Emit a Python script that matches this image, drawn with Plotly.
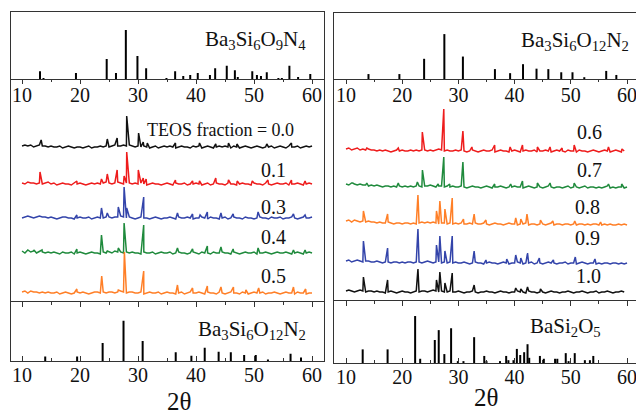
import plotly.graph_objects as go

W, H = 636, 417

# ---------------- reference stick patterns (relative intensity) ----------------
ref_934_pos = [13.1, 13.7, 19.3, 24.6, 26.2, 27.9, 29.9, 31.4, 34.9, 36.4, 37.8, 39.0, 40.3, 42.4,
               43.3, 45.3, 46.7, 47.2, 49.7, 50.5, 51.2, 52.2, 54.2, 54.8, 56.1, 57.6, 59.7]
ref_934_int = [16, 2, 12, 41, 12, 100, 47, 22, 2, 16, 6, 8, 12, 8,
               22, 27, 18, 4, 16, 8, 6, 14, 2, 2, 27, 4, 10]

ref_3122_pos = [14.0, 19.5, 23.9, 27.5, 30.8, 36.5, 39.2, 41.5, 43.9, 46.0, 48.3, 50.3, 52.4, 56.3, 58.1]
ref_3122_int = [11, 11, 45, 100, 50, 22, 13, 33, 23, 22, 15, 15, 4, 18, 9]

ref_bs_pos = [12.97, 17.4, 22.3, 23.2, 25.8, 26.5, 27.5, 28.7, 29.9, 30.9, 32.8, 34.6, 35.0, 37.4,
              38.5, 38.9, 39.8, 40.4, 41.0, 41.7, 42.3, 42.6, 44.5, 45.2, 47.2, 47.6, 49.1, 49.6,
              50.7, 52.5, 53.4, 54.0]
ref_bs_int = [29, 29, 100, 9, 49, 70, 19, 74, 4, 4, 55, 15, 4, 4,
              15, 6, 6, 30, 17, 23, 40, 11, 15, 9, 9, 9, 21, 4,
              21, 6, 6, 15]

# ---------------- measured patterns: baseline (0.5 deg steps from 10) + peaks ----------------
fractions_left = ["0.0", "0.1", "0.3", "0.4", "0.5"]
fractions_right = ["0.6", "0.7", "0.8", "0.9", "1.0"]

base_00 = [1, 2, 1, 2, 0, 1, 2, 1, 1, 0, 1, 0, 0, 1, -1, 0, 1, 0, -1, 0, 0, -1, 0, 1, -1, 0, 0, 1, 0, 1,
           0, 1, 2, 1, 1, 2, 1, 2, 1, 0, 1, 0, 1, 0, -1, 0, 1, -1, 0, 1, 0, 1, 0, -1, 0, 1, 0, 0, -1, 1,
           0, 1, -1, 0, 1, 0, -1, 0, 1, 0, 1, 0, -1, 1, 0, -1, 0, 1, 0, -1, 0, 1, 0, -1, 0, 0, 1, -1, 0, 1,
           0, -1, 1, 0, 0, 1, -1, 0, 1, 0, 1]
peak_00_pos = [13.3, 24.7, 26.4, 28.05, 30.1, 30.9, 31.6, 36.45, 40.6, 43.4, 45.6, 47.05, 52.2, 56.45]
peak_00_h = [7, 8, 9, 31, 14, 5, 4, 4, 4, 3, 4, 3, 3, 4]

base_01 = [1, 0, 2, 1, 1, 0, 1, 0, 1, 2, 0, 1, -1, 0, 1, 0, 0, -1, 1, 0, 1, 0, -1, 0, 1, 0, 1, 0, 1, 2,
           1, 0, 1, 2, 1, 0, 1, 1, 0, 1, 0, 1, 0, -1, 0, 1, 0, 0, -1, 0, 1, 0, -1, 1, 0, 0, 1, -1, 0, 0,
           1, 0, -1, 0, 1, -1, 0, 1, 0, 0, -1, 1, 0, 0, -1, 0, 1, 0, 0, -1, 1, 0, 0, -1, 1, 0, -1, 0, 1, 0,
           0, 1, -1, 0, 0, 1, 0, -1, 0, 1, 0]
peak_01_pos = [13.1, 19.45, 23.7, 24.7, 26.4, 27.6, 28.05, 30.05, 30.9, 31.4, 36.45, 39.4, 40.6, 43.4,
               45.6, 47.1, 49.7, 52.4, 56.45, 58.8]
peak_01_h = [12, 3, 5, 10, 14, 8, 32, 14, 6, 5, 4, 3, 3, 6, 4, 3, 3, 4, 4, 3]

base_03 = [0, 1, 2, 1, 0, 1, 2, 1, 1, 0, 1, 0, -1, 0, 1, 1, 0, 0, -1, 0, 1, 0, 0, 1, -1, 0, 1, 0, 0, 1,
           1, 0, 1, 1, 2, 1, 0, 1, 0, -1, 0, 1, 0, 0, -1, 0, 1, 0, -1, 0, 0, 1, 0, -1, 1, 0, 0, 1, 0, -1,
           0, 0, 1, 0, -1, 1, 0, 0, -1, 0, 1, -1, 0, 1, 0, 0, -1, 1, 0, 0, -1, 0, 1, 0, 0, -1, 1, 0, 0, 1,
           -1, 0, 0, 1, 0, -1, 0, 1, 0, 0, 1]
peak_03_pos = [19.45, 23.7, 24.7, 26.6, 27.6, 28.05, 30.98, 36.8, 39.4, 40.7, 41.95, 44.3, 46.4, 50.7, 56.8, 58.8]
peak_03_h = [3, 10, 5, 11, 31, 10, 21, 5, 4, 3, 6, 5, 4, 6, 4, 3]

base_04 = [2, 0, 3, 1, 2, 0, 2, 1, 0, 1, 0, 1, 0, -1, 1, 0, 0, 1, -1, 0, 1, 0, -1, 0, 1, 0, 0, -1, 1, 0,
           1, 0, 2, 1, 1, 0, 1, 0, 1, 0, 0, -1, 1, 0, 0, 1, -1, 0, 1, 0, 0, 1, -1, 0, 1, 0, 0, -1, 0, 1,
           0, -1, 1, 0, 0, -1, 1, 0, 0, 1, 0, 0, -1, 1, 0, -1, 0, 1, 0, 0, 1, -1, 0, 0, 1, 0, -1, 0, 1, 0,
           0, 1, 0, -1, 0, 1, 0, -1, 0, 1, 0]
peak_04_pos = [12.05, 13.45, 19.45, 23.7, 24.7, 26.6, 27.6, 30.98, 36.8, 39.4, 41.95, 44.3, 46.4, 50.7, 56.8, 58.8]
peak_04_h = [3, 3, 4, 18, 2, 5, 30, 28, 5, 4, 7, 6, 4, 5, 3, 3]

base_05 = [1, 2, 0, 2, 1, 1, 0, 1, 0, 1, 0, 0, 1, -1, 0, 1, 0, -1, 0, 1, 0, 1, 0, -1, 0, 1, 1, 0, 1, 0,
           1, 1, 0, 1, 2, 1, 0, 1, 1, 0, 0, 1, -1, 0, 1, 0, 0, 1, -1, 0, 1, 0, 0, -1, 0, 1, -1, 0, 1, 0,
           0, 1, 0, -1, 1, 0, 0, -1, 1, 0, -1, 0, 1, 0, 0, -1, 1, 0, -1, 0, 1, 0, 0, 1, -1, 0, 0, 1, 0, -1,
           0, 1, 0, 0, -1, 1, 0, 0, -1, 0, 0]
peak_05_pos = [19.45, 23.74, 26.6, 27.65, 30.98, 36.8, 39.4, 41.95, 44.3, 46.45, 48.6, 50.8, 56.8, 58.9]
peak_05_h = [4, 17, 3, 41, 22, 8, 5, 7, 6, 6, 3, 5, 6, 4]

base_06 = [2, 3, 1, 2, 3, 1, 2, 1, 2, 1, 1, 0, 1, 0, 1, 0, -1, 0, 1, 0, 1, 0, 0, 1, 0, 1, 0, 1, 1, 0,
           1, 0, 1, 2, 1, 0, 1, 0, 0, 1, 0, 1, 0, -1, 0, 1, 0, -1, 0, 1, 0, 0, 1, -1, 0, 1, 0, 0, -1, 0,
           1, 0, -1, 0, 1, 0, 0, 1, -1, 0, 0, 1, 0, -1, 0, 1, 0, 0, -1, 1, 0, 0, -1, 1, 0, 0, -1, 0, 1, 0,
           -1, 0, 1, 0, -1, 0, 1, 0, -1, 0]
peak_06_pos = [13.7, 19.3, 23.58, 27.4, 30.8, 32.4, 36.45, 39.2, 41.4, 44.05, 46.3, 48.45, 50.6, 56.7, 59.1]
peak_06_h = [3, 3, 19, 42, 20, 4, 6, 4, 6, 4, 4, 3, 6, 4, 2]

base_07 = [3, 2, 4, 3, 2, 3, 2, 2, 1, 2, 1, 2, 1, 0, 1, 1, 0, 1, 0, 1, 0, 1, 0, 1, 0, 1, 1, 0, 1, 1,
           2, 1, 0, 1, 1, 0, 1, 0, 1, 0, 0, 1, 0, -1, 0, 1, 0, 0, -1, 0, 1, 0, -1, 0, 0, 1, 0, -1, 0, 0,
           1, 0, 0, -1, 0, 1, 0, -1, 0, 0, -1, 0, 1, 0, -1, 0, 0, -1, 0, 1, -1, 0, 0, -1, 0, 1, -1, 0, 0, -1,
           0, -1, 0, 1, -1, 0, -1, 0, 0, -1, 0]
peak_07_pos = [11.2, 13.7, 19.3, 22.7, 23.6, 26.4, 27.4, 28.45, 30.8, 36.45, 39.3, 41.4, 44.05, 46.3, 50.6, 56.7, 59.05]
peak_07_h = [4, 4, 4, 5, 17, 3, 30, 3, 25, 3, 3, 6, 4, 4, 4, 3, 3]

base_08 = [3, 4, 2, 4, 3, 2, 3, 2, 3, 2, 2, 1, 2, 1, 1, 2, 1, 0, 1, 1, 0, 1, 1, 0, 1, 0, 1, 2, 1, 2,
           1, 2, 1, 0, 1, 1, 0, 1, 0, 1, 0, 1, 0, 0, 1, 0, 1, 0, 0, 1, 0, -1, 0, 1, 0, 0, -1, 0, 1, 0,
           0, -1, 0, 0, 1, -1, 0, 0, -1, 0, 0, -1, 0, 1, -1, 0, 0, -1, 0, 0, -1, 0, -1, 0, 0, -1, 0, -1, 0, 0,
           -1, -1, 0, -1, 0, -1, -1, 0, -1, 0, -1]
peak_08_pos = [13.1, 17.4, 22.8, 26.1, 26.7, 27.6, 28.9, 30.9, 32.8, 34.9, 40.2, 41.1, 42.2, 44.6, 46.8, 50.7, 55.3]
peak_08_h = [13, 10, 29, 13, 23, 15, 26, 5, 10, 4, 6, 5, 10, 4, 3, 3, 2]

base_09 = [2, 3, 1, 2, 3, 2, 1, 2, 2, 1, 1, 2, 1, 0, 1, 1, 0, 1, 1, 0, 1, 0, 1, 1, 0, 1, 1, 0, 1, 2,
           1, 0, 1, 1, 0, 1, 0, 1, 0, 1, 0, 0, 1, 0, -1, 0, 1, 0, 0, -1, 0, 1, 0, 0, -1, 0, 1, 0, -1, 0,
           0, 1, 0, -1, 0, 0, 1, -1, 0, 0, -1, 0, 1, 0, 0, -1, 0, 0, 1, -1, 0, 0, -1, 0, 1, 0, -1, 0, 0, -1,
           0, -1, 0, 0, -1, 0, 0, -1, 0, -1, 0]
peak_09_pos = [13.1, 17.4, 22.8, 26.1, 26.7, 27.6, 28.9, 32.8, 34.9, 38.6, 40.2, 41.1, 42.3, 44.4, 46.9, 50.8, 54.3]
peak_09_h = [22, 15, 34, 18, 27, 12, 27, 12, 3, 4, 8, 5, 10, 5, 3, 6, 4]

base_10 = [1, 2, 1, 0, 1, 2, 1, 0, 1, 1, 0, 1, 0, 0, -1, 0, 1, 0, -1, 0, 1, 0, 0, -1, 0, 1, 0, 1, 1, 0,
           1, 2, 1, 0, 1, 0, 0, 1, 0, 0, 1, 0, -1, 0, 0, 1, 0, -1, 0, 0, 1, 0, 0, -1, 0, 1, 0, 0, -1, 0,
           0, 1, 0, 0, -1, 1, 0, 0, -1, 0, 0, -1, 0, 1, 0, 0, -1, 0, 0, 1, 0, -1, 0, 0, 1, 0, -1, 0, 0, 1,
           -1, 0, 0, 1, 0, -1, 0, 0, 1, 0]
peak_10_pos = [13.1, 17.4, 22.8, 26.1, 26.7, 27.6, 28.9, 32.8, 40.2, 41.1, 42.3, 44.6]
peak_10_h = [15, 12, 23, 12, 20, 9, 19, 7, 4, 3, 5, 3]

colors_left = ["#111111", "#ee1c1c", "#3344aa", "#1f8a3c", "#ff7f27"]
colors_right = ["#ee1c1c", "#1f8a3c", "#ff7f27", "#3344aa", "#111111"]
offsets_left = [155, 118, 84, 49, 9]     # vertical stacking (a.u.)
offsets_right = [150, 114, 77, 38, 9]

left_sets = [(base_00, peak_00_pos, peak_00_h), (base_01, peak_01_pos, peak_01_h),
             (base_03, peak_03_pos, peak_03_h), (base_04, peak_04_pos, peak_04_h),
             (base_05, peak_05_pos, peak_05_h)]
right_sets = [(base_06, peak_06_pos, peak_06_h), (base_07, peak_07_pos, peak_07_h),
              (base_08, peak_08_pos, peak_08_h), (base_09, peak_09_pos, peak_09_h),
              (base_10, peak_10_pos, peak_10_h)]


def pattern(base, pos, hgt, off):
    pts = [(10 + 0.5 * i, off + b) for i, b in enumerate(base)]
    pts += [(p, off + h) for p, h in zip(pos, hgt)]
    pts.sort(key=lambda t: t[0])
    return [p[0] for p in pts], [p[1] for p in pts]


def sticks(pos, inten):
    xs, ys = [], []
    for p, v in zip(pos, inten):
        xs += [p, p, None]
        ys += [0, v, None]
    return xs, ys


fig = go.Figure()

for (pos, inten, ax) in [(ref_934_pos, ref_934_int, ("x", "y")),
                         (ref_3122_pos, ref_3122_int, ("x3", "y3")),
                         (ref_3122_pos, ref_3122_int, ("x4", "y4")),
                         (ref_bs_pos, ref_bs_int, ("x6", "y6"))]:
    xs, ys = sticks(pos, inten)
    fig.add_trace(go.Scatter(x=xs, y=ys, mode="lines", line=dict(color="#000000", width=2),
                             xaxis=ax[0], yaxis=ax[1], hoverinfo="skip", showlegend=False))

for sets, cols, offs, ax in [(left_sets, colors_left, offsets_left, ("x2", "y2")),
                             (right_sets, colors_right, offsets_right, ("x5", "y5"))]:
    for (b, p, h), c, o in zip(sets, cols, offs):
        xs, ys = pattern(b, p, h, o)
        fig.add_trace(go.Scatter(x=xs, y=ys, mode="lines", line=dict(color=c, width=1.5),
                                 xaxis=ax[0], yaxis=ax[1], hoverinfo="skip", showlegend=False))

LC = "#333333"
FONT = "Liberation Serif"


def tf():
    return dict(family=FONT, size=20, color="#111111")


def xd(a, b):
    return [a / W, b / W]


def yd(top, bot):
    return [1 - bot / H, 1 - top / H]


L_X, R_X = xd(11, 323.5), xd(334, 636)
L_RANGE, R_RANGE = [8.1, 61.98], [7.865, 61.6]


def top_x(dom, rng, anchor):
    return dict(domain=dom, range=rng, anchor=anchor, showgrid=False, zeroline=False,
                showline=True, linecolor=LC, linewidth=1.3, mirror=True,
                ticks="outside", ticklen=4, tickwidth=1.3, tickcolor=LC,
                tick0=10, dtick=10, tickfont=tf(), ticklabelstandoff=-6,
                ticklabeloverflow="allow",
                minor=dict(tick0=5, dtick=5, ticks="outside", ticklen=2, tickwidth=1.2, tickcolor=LC))


def bot_x(dom, rng, anchor):
    return dict(domain=dom, range=rng, anchor=anchor, showgrid=False, zeroline=False,
                showline=True, linecolor=LC, linewidth=1.3, mirror="ticks",
                ticks="inside", ticklen=5, tickwidth=1.3, tickcolor=LC,
                tick0=10, dtick=10, tickfont=tf(), ticklabelstandoff=-4,
                ticklabeloverflow="allow",
                minor=dict(tick0=5, dtick=5, ticks="inside", ticklen=3, tickwidth=1.2, tickcolor=LC))


def mid_x(dom, rng, anchor):
    return dict(domain=dom, range=rng, anchor=anchor, visible=False)


def yax(dom, rng, anchor, mirror):
    return dict(domain=dom, range=rng, anchor=anchor, showgrid=False, zeroline=False,
                showline=True, linecolor=LC, linewidth=1.3, mirror=mirror,
                ticks="", showticklabels=False)


fig.update_layout(
    width=W, height=H, margin=dict(l=0, r=0, t=0, b=0),
    font=dict(family=FONT, size=20, color="#111111"),
    paper_bgcolor="white", plot_bgcolor="white", showlegend=False,
    xaxis=top_x(L_X, L_RANGE, "y"), yaxis=yax(yd(12, 79), [0, 136.7], "x", True),
    xaxis2=mid_x(L_X, L_RANGE, "y2"), yaxis2=yax(yd(79, 302), [0, 223], "x2", True),
    xaxis3=bot_x(L_X, L_RANGE, "y3"), yaxis3=yax(yd(302, 361), [0, 147], "x3", True),
    xaxis4=top_x(R_X, R_RANGE, "y4"), yaxis4=yax(yd(13, 79), [0, 147], "x4", False),
    xaxis5=mid_x(R_X, R_RANGE, "y5"), yaxis5=yax(yd(79, 301), [0, 222], "x5", False),
    xaxis6=bot_x(R_X, R_RANGE, "y6"), yaxis6=yax(yd(301, 363), [0, 132], "x6", False),
)


def ann(text, xr, yc, size, xanchor="right", yanchor="middle"):
    fig.add_annotation(text=text, x=xr / W, y=1 - yc / H, xref="paper", yref="paper",
                       xanchor=xanchor, yanchor=yanchor, showarrow=False,
                       font=dict(family=FONT, size=size, color="#111111"))


ann("Ba<sub>3</sub>Si<sub>6</sub>O<sub>9</sub>N<sub>4</sub>", 308, 40, 21)
ann("Ba<sub>3</sub>Si<sub>6</sub>O<sub>12</sub>N<sub>2</sub>", 631, 41, 21)
ann("Ba<sub>3</sub>Si<sub>6</sub>O<sub>12</sub>N<sub>2</sub>", 308, 330, 21)
ann("BaSi<sub>2</sub>O<sub>5</sub>", 603, 327, 21)

ann("TEOS fraction = " + fractions_left[0], 296, 130, 18)
for lab, yc in zip(fractions_left[1:], [170, 207, 237, 276]):
    ann(lab, 288, yc, 20)
for lab, yc, xr in zip(fractions_right, [132, 170, 207, 238, 276], [604, 604, 602, 602, 603]):
    ann(lab, xr, yc, 20)

ann("2θ", 179, 417, 25, xanchor="center", yanchor="bottom")
ann("2θ", 486, 397, 25, xanchor="center")

fig.write_html("out.html")
